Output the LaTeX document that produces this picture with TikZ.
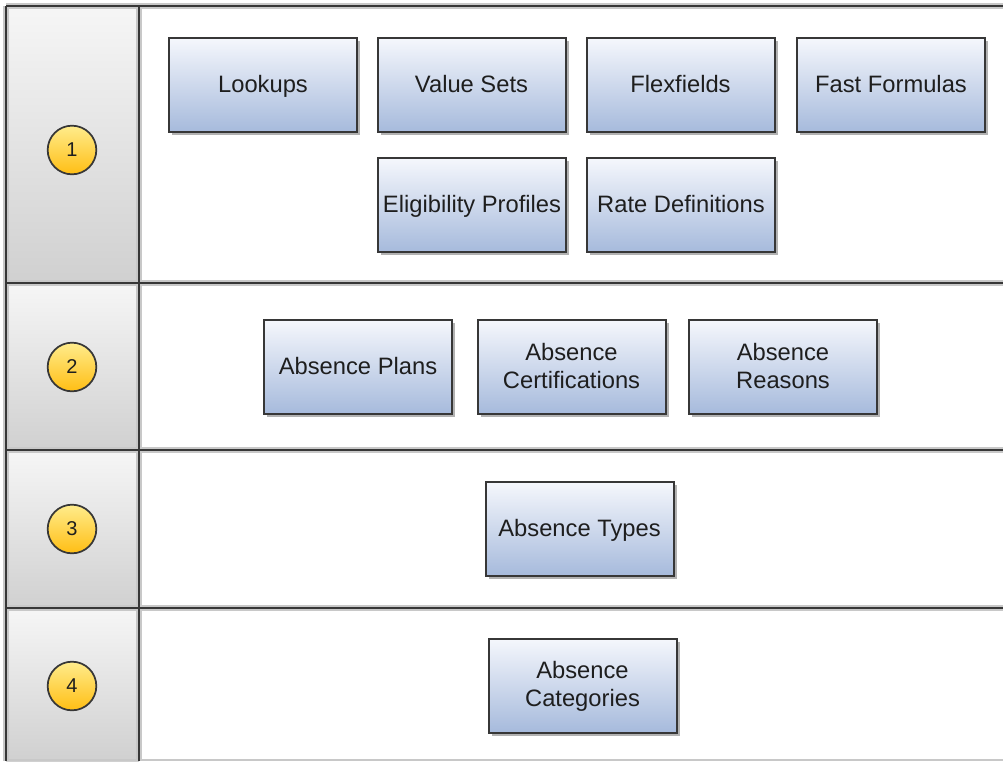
\documentclass[tikz,border=0pt]{standalone}
\usepackage{fontspec}
\setmainfont{Liberation Sans}
\usetikzlibrary{shadows}
\definecolor{boxtop}{RGB}{245,247,252}
\definecolor{boxbot}{RGB}{166,186,220}
\definecolor{coltop}{RGB}{246,246,246}
\definecolor{colbot}{RGB}{208,208,208}
\definecolor{ctop}{RGB}{255,236,140}
\definecolor{cbot}{RGB}{255,190,20}
\definecolor{framec}{RGB}{55,55,55}
\definecolor{halo}{RGB}{200,200,200}
\definecolor{txt}{RGB}{30,30,30}
\newcommand{\bxs}{\rule[-2.8pt]{0pt}{17.2pt}}
\tikzset{
  x=0.75pt, y=-0.75pt,
  itembox/.style={draw=framec, line width=1.5pt, top color=boxtop, bottom color=boxbot,
    minimum width=141pt, minimum height=70.5pt, inner sep=1pt, align=center,
    text=txt, font=\fontsize{17.8}{21}\selectfont,
    drop shadow={shadow xshift=2.5pt, shadow yshift=-2.5pt, opacity=0.3, fill=black}},
  stepnum/.style={circle, draw=framec, line width=1.3pt, top color=ctop, bottom color=cbot,
    minimum size=36.5pt, inner sep=0pt, text=txt, font=\fontsize{15}{17}\selectfont},
  colcell/.style={top color=coltop, bottom color=colbot, draw=none},
  haloline/.style={draw=halo, line width=4pt},
  frameline/.style={draw=framec, line width=2pt}
}
\begin{document}
\begin{tikzpicture}
\useasboundingbox (0,0) rectangle (1003,761);
\fill[white] (0,0) rectangle (1003,761);
% left column cells
\path[colcell] (6,6) rectangle (139,283);
\path[colcell] (6,283) rectangle (139,450);
\path[colcell] (6,450) rectangle (139,608);
\path[colcell] (6,608) rectangle (139,761);
% bottom faint line
\draw[halo, line width=1pt] (6,760) -- (1003,760);
% frame lines
\coordinate (tl) at (6,6);
\coordinate (tr) at (1003,6);
\coordinate (bl) at (6,761);
\coordinate (ct) at (139,6);
\coordinate (cb) at (139,761);
\coordinate (s1l) at (6,283);
\coordinate (s1r) at (1003,283);
\coordinate (s2l) at (6,450);
\coordinate (s2r) at (1003,450);
\coordinate (s3l) at (6,608);
\coordinate (s3r) at (1003,608);
\foreach \st in {haloline,frameline}{
  \draw[\st] (tl) -- (tr);
  \draw[\st] (tl) -- (bl);
  \draw[\st] (ct) -- (cb);
  \draw[\st] (s1l) -- (s1r);
  \draw[\st] (s2l) -- (s2r);
  \draw[\st] (s3l) -- (s3r);
}
% step circles
\node[stepnum] (n1) at (72,150) {1};
\node[stepnum] (n2) at (72,367) {2};
\node[stepnum] (n3) at (72,529) {3};
\node[stepnum] (n4) at (72,686) {4};
% row 1
\node[itembox] (lookups) at (263,85) {\bxs Lookups};
\node[itembox] (valuesets) at (471.5,85) {\bxs Value Sets};
\node[itembox] (flexfields) at (680.5,85) {\bxs Flexfields};
\node[itembox] (fastformulas) at (891,85) {\bxs Fast Formulas};
\node[itembox] (eligibility) at (472,205) {\bxs Eligibility Profiles};
\node[itembox] (ratedefs) at (681,205) {\bxs Rate Definitions};
% row 2
\node[itembox] (plans) at (358,367) {\bxs Absence Plans};
\node[itembox] (certs) at (571.5,367) {\bxs Absence\\\bxs Certifications};
\node[itembox] (reasons) at (783,367) {\bxs Absence\\\bxs Reasons};
% row 3
\node[itembox] (types) at (579.5,529) {\bxs Absence Types};
% row 4
\node[itembox] (categories) at (582.5,685.5) {\bxs Absence\\\bxs Categories};
\end{tikzpicture}
\end{document}
